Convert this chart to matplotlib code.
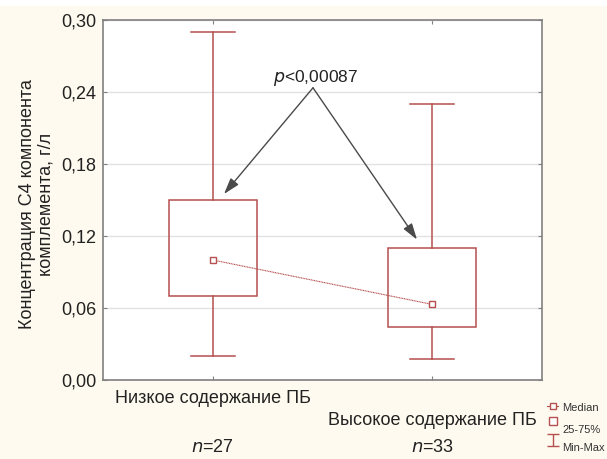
import matplotlib
matplotlib.use("Agg")
import matplotlib.pyplot as plt
from matplotlib.lines import Line2D
from matplotlib.patches import Rectangle
from matplotlib.path import Path

plt.rcParams['font.family'] = ['Liberation Sans', 'DejaVu Sans']

groups = ["Низкое содержание ПБ", "Высокое содержание ПБ"]
n_labels = ["27", "33"]
medians = [0.100, 0.063]
q25 = [0.070, 0.044]
q75 = [0.150, 0.110]
mins = [0.020, 0.0175]
maxs = [0.290, 0.230]
yticks = [0.00, 0.06, 0.12, 0.18, 0.24, 0.30]
ytick_labels = ["0,00", "0,06", "0,12", "0,18", "0,24", "0,30"]
p_text = "<0,00087"
legend_labels = ["Median", "25-75%", "Min-Max"]

red = "#b5504f"
bg = "#fffaef"
txt = "#222222"
W, H = 607, 459

fig = plt.figure(figsize=(W / 100, H / 100), dpi=100, facecolor=bg)
fig.add_artist(Rectangle((0, 1 - 6 / H), 1, 6 / H, transform=fig.transFigure,
                         facecolor="white", edgecolor="none", zorder=0))
ax = fig.add_axes([103 / W, 1 - 380 / H, 439 / W, 360 / H])
ax.set_facecolor("white")

pos = [0, 1]
bw = 0.40
cw = 0.20
for i, x in enumerate(pos):
    ax.add_patch(Rectangle((x - bw / 2, q25[i]), bw, q75[i] - q25[i], fill=False,
                           edgecolor=red, lw=1.1, zorder=3))
    ax.plot([x, x], [q75[i], maxs[i]], color=red, lw=1.1, zorder=3)
    ax.plot([x, x], [mins[i], q25[i]], color=red, lw=1.1, zorder=3)
    ax.plot([x - cw / 2, x + cw / 2], [maxs[i], maxs[i]], color=red, lw=1.1, zorder=3)
    ax.plot([x - cw / 2, x + cw / 2], [mins[i], mins[i]], color=red, lw=1.1, zorder=3)
ax.plot(pos, medians, color=red, lw=0.8, ls=(0, (1, 0.5)), marker="s", ms=4.5,
        mfc="white", mec=red, mew=1.0, zorder=4)

ax.set_xlim(-0.5, 1.5)
ax.set_ylim(0, 0.30)
ax.set_yticks(yticks)
ax.set_yticklabels(ytick_labels)
ax.set_xticks(pos)
ax.set_xticklabels([])
ax.tick_params(axis="both", direction="in", length=3, width=0.8, color="#808080",
               labelsize=13, top=True, right=True, pad=5, labelcolor=txt)
ax.yaxis.grid(True, color="#e2e2e2", lw=1.0)
ax.set_axisbelow(True)
for s in ax.spines.values():
    s.set_color("#808080")
    s.set_linewidth(1.2)

fig.text(37 / W, 1 - 204 / H, "Концентрация С4 компонента\nкомплемента, г/л",
         rotation=90, ha="center", va="center", multialignment="center",
         fontsize=13, color=txt, linespacing=1.15)

# category labels (staggered)
xt = ax.get_xaxis_transform()
ax.text(pos[0], (380 - 403) / 360, groups[0], transform=xt, ha="center",
        va="baseline", fontsize=13, color=txt)
ax.text(pos[1], (380 - 425) / 360, groups[1], transform=xt, ha="center",
        va="baseline", fontsize=13, color=txt)
for i, x in enumerate(pos):
    ax.text(x, (380 - 452) / 360, "$\\it{n}$=" + n_labels[i], transform=xt,
            ha="center", va="baseline", fontsize=13, color=txt)

# p-value annotation with arrows
apex_x = -0.5 + (313 - 103) / 439 * 2
apex_y = 0.2435
ax.text(apex_x + 0.01, 0.2483, "$\\it{p}$" + p_text, ha="center", va="baseline",
        fontsize=12.5, color=txt)
for tgt in [(-0.5 + (224 - 103) / 439 * 2, 0.155), (-0.5 + (417 - 103) / 439 * 2, 0.117)]:
    ax.annotate("", xy=tgt, xytext=(apex_x, apex_y),
                arrowprops=dict(arrowstyle="-|>,head_length=0.7,head_width=0.22",
                                color="#4a4a4a", lw=1.0,
                                mutation_scale=14, shrinkA=0, shrinkB=0))

# legend (drawn manually to match the offsets)
def fx(p):
    return p / W

def fy(p):
    return 1 - p / H

fig.add_artist(Line2D([fx(547), fx(558)], [fy(406), fy(406)], color=red, lw=0.8,
                      transform=fig.transFigure))
fig.add_artist(Line2D([fx(552.5)], [fy(406)], color=red, marker="s", ms=4,
                      mfc="white", mec=red, mew=1.0, transform=fig.transFigure))
fig.add_artist(Line2D([fx(552.5)], [fy(421)], color=red, marker="s", ms=6,
                      mfc="white", mec=red, mew=1.0, transform=fig.transFigure,
                      linestyle="none"))
ibar = Path([(-0.5, 0.5), (0.5, 0.5), (0, 0.5), (0, -0.5), (-0.5, -0.5), (0.5, -0.5)],
            [Path.MOVETO, Path.LINETO, Path.MOVETO, Path.LINETO, Path.MOVETO, Path.LINETO])
fig.add_artist(Line2D([fx(552.5)], [fy(440)], color=red, marker=ibar, ms=8,
                      mfc="none", mec=red, mew=1.0, transform=fig.transFigure,
                      linestyle="none"))
for lab, yp in zip(legend_labels, [408, 430, 448]):
    fig.text(fx(562), fy(yp), lab, ha="left", va="center", fontsize=8, color="#333333")

fig.savefig("out.png", dpi=100, facecolor=bg)
